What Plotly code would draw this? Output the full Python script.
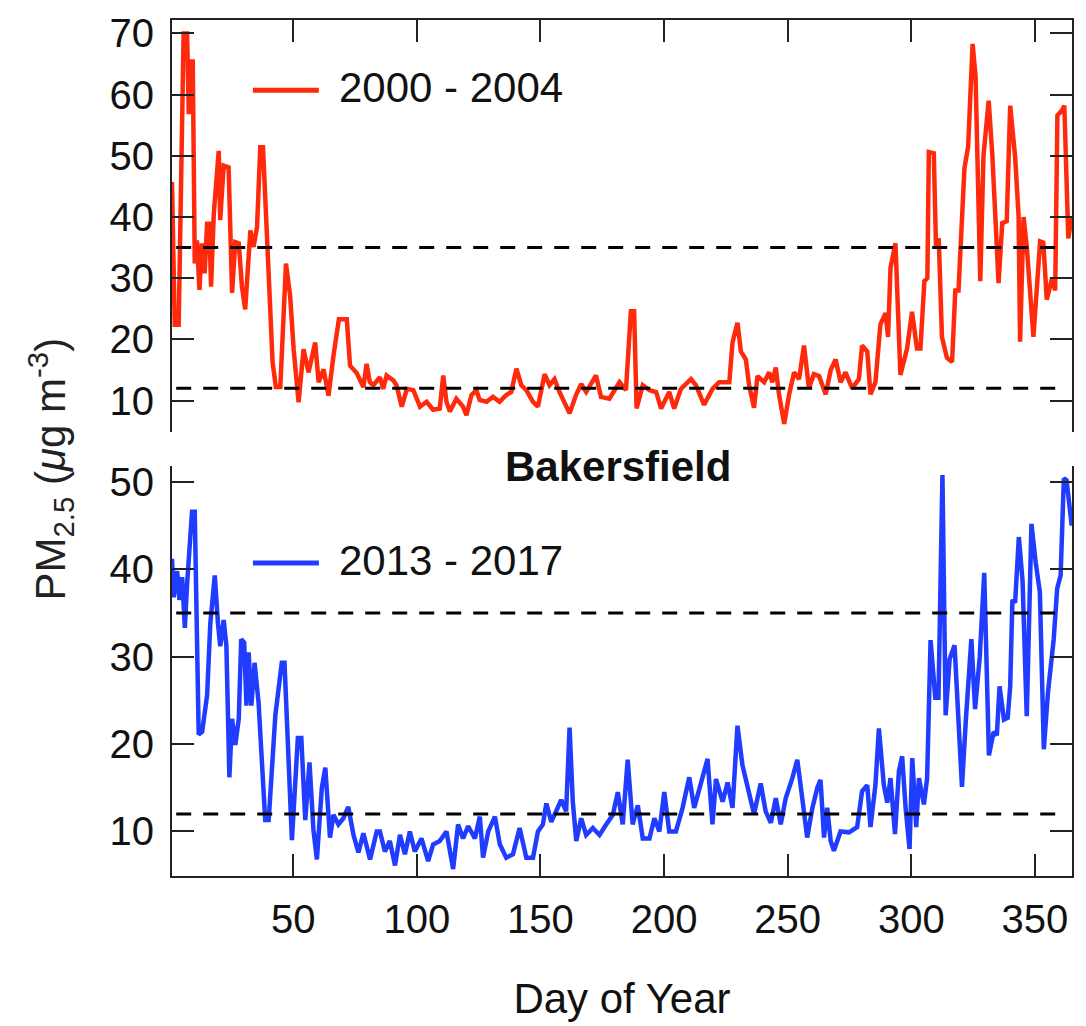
import plotly.graph_objects as go

# ---------------- data ----------------
red_days = [1.0, 2.1, 3.7, 4.4, 5.7, 7.1, 7.8, 8.7, 9.4, 10.2, 11.1, 12.1, 13.1, 14.2, 15.2, 16.1, 16.8, 17.9,
            19.9, 20.5, 21.9, 23.9, 25.3, 26.6, 28.0, 29.3, 30.6, 32.7, 34.0, 35.4, 36.7, 37.8, 40.7, 41.7,
            43.0, 44.8, 47.1, 48.8, 50.2, 52.2, 54.2, 56.2, 58.9, 60.3, 62.3, 64.3, 66.3, 68.5, 71.7, 73.0,
            75.7, 78.4, 79.7, 81.0, 82.4, 85.1, 86.4, 87.8, 90.5, 91.8, 93.9, 96.0, 98.6, 101.3, 104.0,
            106.6, 109.3, 110.7, 112.0, 113.4, 116.0, 118.7, 120.1, 122.1, 124.1, 125.4, 128.2, 130.8,
            133.5, 136.2, 138.2, 140.3, 142.3, 144.3, 147.0, 149.0, 151.7, 153.7, 155.7, 157.7, 161.8,
            164.4, 166.5, 168.5, 172.5, 174.5, 177.9, 182.0, 184.6, 186.6, 187.9, 188.9, 191.4, 194.1,
            196.8, 198.8, 202.1, 204.1, 206.8, 210.9, 212.9, 216.2, 219.6, 222.3, 226.4, 227.7, 229.7,
            231.1, 233.1, 234.4, 236.4, 237.8, 240.5, 242.5, 243.8, 245.2, 246.5, 248.6, 250.6, 252.6,
            254.6, 256.6, 258.6, 260.6, 262.7, 265.4, 267.4, 269.4, 271.4, 273.4, 276.1, 278.8, 280.1,
            282.2, 283.5, 285.5, 287.5, 289.6, 290.6, 291.6, 293.6, 295.6, 298.3, 300.3, 302.3, 303.7,
            305.3, 306.5, 307.1, 309.1, 310.0, 311.1, 312.4, 314.4, 316.5, 317.8, 319.1, 321.5, 323.0,
            324.8, 326.0, 327.9, 329.2, 331.3, 332.8, 335.3, 336.8, 338.6, 340.0, 342.0, 343.4, 344.0,
            345.4, 346.7, 349.4, 352.1, 353.4, 354.8, 356.8, 358.2, 359.1, 360.9, 361.9, 363.5, 364.9]
red_vals = [45.7, 22.4, 22.4, 37.3, 70.0, 70.0, 56.8, 65.4, 65.4, 32.4, 36.2, 28.1, 35.7, 30.8, 38.9, 38.9, 28.6, 40.5,
            50.8, 39.5, 48.4, 48.1, 27.6, 35.9, 35.7, 28.6, 24.9, 37.8, 35.1, 38.4, 51.4, 51.4, 24.3, 16.2,
            12.2, 12.2, 32.4, 27.0, 18.4, 9.7, 18.4, 14.6, 19.5, 13.0, 15.1, 10.8, 17.3, 23.3, 23.3, 15.7,
            14.5, 12.2, 16.0, 13.0, 12.5, 13.8, 11.9, 14.1, 13.3, 12.5, 9.0, 11.9, 11.7, 9.0, 9.8,
            8.5, 8.7, 14.1, 9.8, 8.2, 10.3, 9.0, 7.6, 10.9, 11.7, 10.1, 9.8, 10.6,
            9.8, 10.9, 11.4, 15.2, 12.5, 11.7, 9.8, 9.0, 14.3, 12.5, 13.5, 11.4, 7.9,
            10.9, 12.7, 11.4, 14.1, 10.6, 10.3, 13.0, 11.7, 24.6, 24.6, 8.7, 12.5, 11.7,
            11.4, 8.7, 11.4, 8.7, 11.9, 13.5, 12.5, 9.3, 11.9, 13.0, 13.0, 19.5, 22.7,
            18.0, 16.7, 12.5, 8.8, 14.0, 13.0, 14.6, 13.0, 15.4, 11.0, 6.2, 11.0, 14.6,
            13.5, 19.0, 12.0, 14.3, 14.0, 11.0, 15.0, 16.7, 13.0, 14.6, 12.0, 13.5, 19.0,
            18.0, 11.0, 13.0, 22.4, 24.3, 20.4, 31.7, 35.7, 14.2, 18.5, 24.5, 18.5, 18.5,
            29.5, 30.0, 50.6, 50.4, 35.0, 36.5, 20.4, 17.0, 16.3, 28.0, 28.0, 48.0, 51.5,
            68.3, 63.0, 29.5, 50.0, 59.0, 50.0, 29.2, 39.0, 39.3, 58.2, 49.8, 40.2, 19.6,
            40.0, 35.2, 20.4, 36.0, 35.8, 26.5, 29.8, 28.0, 56.6, 57.4, 58.2, 36.5, 40.0]

blue_days = [1.0, 1.7, 3.1, 4.0, 5.1, 6.2, 7.1, 8.0, 9.1, 10.2, 11.8, 13.2, 15.2, 16.5, 18.3, 19.6, 20.5, 21.9,
             23.0, 24.2, 25.3, 26.6, 28.0, 29.0, 30.2, 31.1, 32.0, 33.1, 34.4, 36.0, 38.7, 40.1, 42.8, 45.4,
             46.5, 49.5, 51.9, 53.3, 54.9, 56.6, 58.2, 59.6, 61.6, 63.0, 64.9, 66.3, 68.3, 70.3, 72.3, 74.4,
             76.4, 78.4, 81.1, 83.8, 85.1, 87.1, 89.1, 91.2, 93.2, 95.2, 97.2, 99.2, 101.9, 104.6, 106.6,
             109.3, 112.0, 114.7, 116.7, 118.7, 120.8, 123.5, 125.5, 126.8, 128.9, 131.6, 133.6, 136.2,
             138.9, 141.6, 144.3, 147.0, 149.0, 151.0, 152.4, 154.4, 156.4, 158.4, 160.4, 161.8, 163.1,
             164.5, 166.5, 168.5, 171.2, 173.9, 176.6, 179.3, 181.3, 183.3, 185.3, 187.3, 189.4, 191.4,
             194.1, 196.1, 198.1, 200.1, 202.1, 204.8, 207.5, 210.2, 212.2, 214.9, 217.6, 219.6, 221.0,
             223.7, 225.7, 227.7, 229.7, 231.7, 234.4, 236.4, 239.1, 241.1, 243.2, 245.2, 247.2, 249.2,
             251.9, 253.9, 255.9, 257.9, 260.0, 262.0, 263.3, 264.7, 266.0, 267.4, 268.7, 271.4, 274.8,
             278.1, 280.1, 282.2, 283.5, 285.5, 286.9, 288.9, 290.3, 291.6, 293.4, 295.0, 296.3, 297.7,
             299.3, 300.4, 302.0, 303.1, 305.1, 306.4, 307.8, 309.7, 311.0, 312.6, 313.9, 315.5, 317.5,
             320.5, 322.1, 324.3, 325.8, 327.7, 329.5, 331.4, 333.3, 334.6, 335.7, 337.5, 339.0, 340.0,
             340.9, 342.0, 343.5, 345.0, 346.7, 348.6, 350.3, 352.0, 353.6, 355.3, 357.6, 359.0, 360.4,
             361.7, 362.8, 364.9]
blue_vals = [41.2, 36.8, 39.8, 36.5, 39.1, 33.3, 38.3, 42.1, 46.6, 46.6, 21.1, 21.4, 25.6, 33.8, 39.3, 33.8, 31.2, 34.2,
             31.2, 16.2, 22.9, 19.9, 22.9, 32.0, 31.6, 24.4, 30.5, 24.4, 29.3, 24.8, 11.3, 11.3, 23.3, 29.3,
             29.3, 9.0, 20.7, 20.7, 11.3, 17.9, 10.2, 6.8, 15.0, 17.3, 9.3, 11.9, 10.8, 11.5, 12.8, 9.6,
             7.6, 9.8, 6.8, 10.0, 10.0, 7.7, 8.9, 6.1, 9.6, 7.4, 10.0, 7.7, 9.2, 6.6, 8.5,
             8.9, 10.0, 5.7, 10.8, 9.2, 10.6, 9.2, 11.7, 7.0, 10.0, 11.7, 8.5, 7.0,
             7.4, 10.4, 7.0, 7.0, 10.0, 10.8, 13.2, 11.1, 12.3, 13.6, 12.3, 21.9, 13.4,
             8.9, 11.5, 9.6, 10.4, 9.6, 10.8, 11.9, 14.5, 10.8, 18.2, 10.8, 13.0, 9.2,
             9.2, 11.5, 10.0, 14.5, 10.0, 10.0, 12.7, 16.2, 12.7, 15.3, 18.3, 10.8, 16.0,
             13.4, 15.6, 12.7, 22.1, 17.6, 14.6, 12.0, 15.5, 12.3, 11.0, 13.8, 10.8, 13.8,
             16.1, 18.2, 13.8, 9.3, 12.7, 15.0, 15.9, 9.3, 12.7, 8.9, 7.8, 10.0, 9.9,
             10.5, 14.6, 15.3, 10.5, 15.3, 21.8, 15.3, 13.3, 16.1, 9.7, 16.9, 18.6, 12.7,
             8.0, 18.4, 10.5, 16.1, 13.1, 16.1, 31.9, 25.3, 25.3, 50.8, 23.3, 29.7, 31.3,
             15.1, 22.9, 32.0, 24.0, 30.0, 39.6, 18.7, 21.4, 21.0, 26.6, 22.8, 23.0, 26.6,
             36.5, 36.2, 43.7, 38.7, 23.2, 45.2, 40.8, 37.4, 19.4, 26.0, 32.0, 37.8, 39.3,
             50.4, 50.2, 45.0]

series_names = ["2000 - 2004", "2013 - 2017"]
series_colors = ["#ff2a0c", "#1f3cff"]
threshold_levels = [35, 12]          # reference concentrations (dashed lines)
threshold_span = [2.7, 362.2]        # day range of the dashed lines
x_ticks = [50, 100, 150, 200, 250, 300, 350]
top_ticks = [10, 20, 30, 40, 50, 60, 70]
bottom_ticks = [10, 20, 30, 40, 50]
site_name = "Bakersfield"

FONT = "Liberation Sans, Arial, Helvetica, sans-serif"
AX = "#222222"

fig = go.Figure()
fig.add_trace(go.Scatter(x=red_days, y=red_vals, mode="lines", name=series_names[0],
                         line=dict(color=series_colors[0], width=4.5), xaxis="x2", yaxis="y2",
                         showlegend=False))
fig.add_trace(go.Scatter(x=blue_days, y=blue_vals, mode="lines", name=series_names[1],
                         line=dict(color=series_colors[1], width=4.5), xaxis="x", yaxis="y",
                         showlegend=False))

shapes = []
for yref in ["y", "y2"]:
    for lev in threshold_levels:
        shapes.append(dict(type="line", xref="x", yref=yref, x0=threshold_span[0], x1=threshold_span[1],
                           y0=lev, y1=lev, layer="above",
                           line=dict(color="black", width=3, dash="15px,12px")))

# legend samples (drawn manually to match the long sample lines)
TOP0, BOT0 = 0.519, 0.4787
leg_y = [0.918, 0.3656]
for ly, col in zip(leg_y, series_colors):
    shapes.append(dict(type="line", xref="paper", yref="paper", x0=0.0899, x1=0.1632, y0=ly, y1=ly,
                       line=dict(color=col, width=5)))

annotations = []
for ly, name in zip(leg_y, series_names):
    annotations.append(dict(text=name, xref="paper", yref="paper", x=0.1831, y=ly + 0.003,
                            xanchor="left", yanchor="middle", showarrow=False,
                            font=dict(family=FONT, size=42, color="#111")))
annotations.append(dict(text="<b>" + site_name + "</b>", xref="paper", yref="paper", x=0.495, y=0.4787,
                        xanchor="center", yanchor="middle", showarrow=False,
                        font=dict(family=FONT, size=42, color="#111")))
annotations.append(dict(text="PM<sub>2.5</sub> (<i>μ</i>g m<sup>-3</sup>)", xref="paper", yref="paper",
                        x=-0.1354, y=0.475, xanchor="center", yanchor="middle", textangle=-90,
                        showarrow=False, font=dict(family=FONT, size=42, color="#222")))

common_x = dict(showgrid=False, zeroline=False, showline=True, linecolor=AX, linewidth=2,
                ticks="inside", ticklen=22, tickwidth=2, tickcolor=AX, tickvals=x_ticks,
                range=[1, 365])
common_y = dict(showgrid=False, zeroline=False, showline=True, linecolor=AX, linewidth=2,
                ticks="inside", ticklen=22, tickwidth=2, tickcolor=AX, mirror="ticks",
                tickfont=dict(family=FONT, size=40, color="#111"), ticklabelstandoff=8)

fig.update_layout(
    width=1086, height=1026,
    margin=dict(l=172, r=13, t=15, b=144),
    plot_bgcolor="white", paper_bgcolor="white",
    showlegend=False,
    xaxis=dict(**common_x, domain=[0, 1], anchor="y", side="bottom",
               tickfont=dict(family=FONT, size=40, color="#111"), ticklabelstandoff=7,
               title=dict(text="Day of Year", font=dict(family=FONT, size=42, color="#111"), standoff=44)),
    xaxis2=dict(**common_x, domain=[0, 1], anchor="y2", side="top", matches="x", showticklabels=False),
    yaxis=dict(**common_y, domain=[0, BOT0], anchor="x", range=[4.9, 51.8], tickvals=bottom_ticks),
    yaxis2=dict(**common_y, domain=[TOP0, 1], anchor="x2", range=[4.9, 72.2], tickvals=top_ticks),
    shapes=shapes,
    annotations=annotations,
)

fig.write_html("out.html")
